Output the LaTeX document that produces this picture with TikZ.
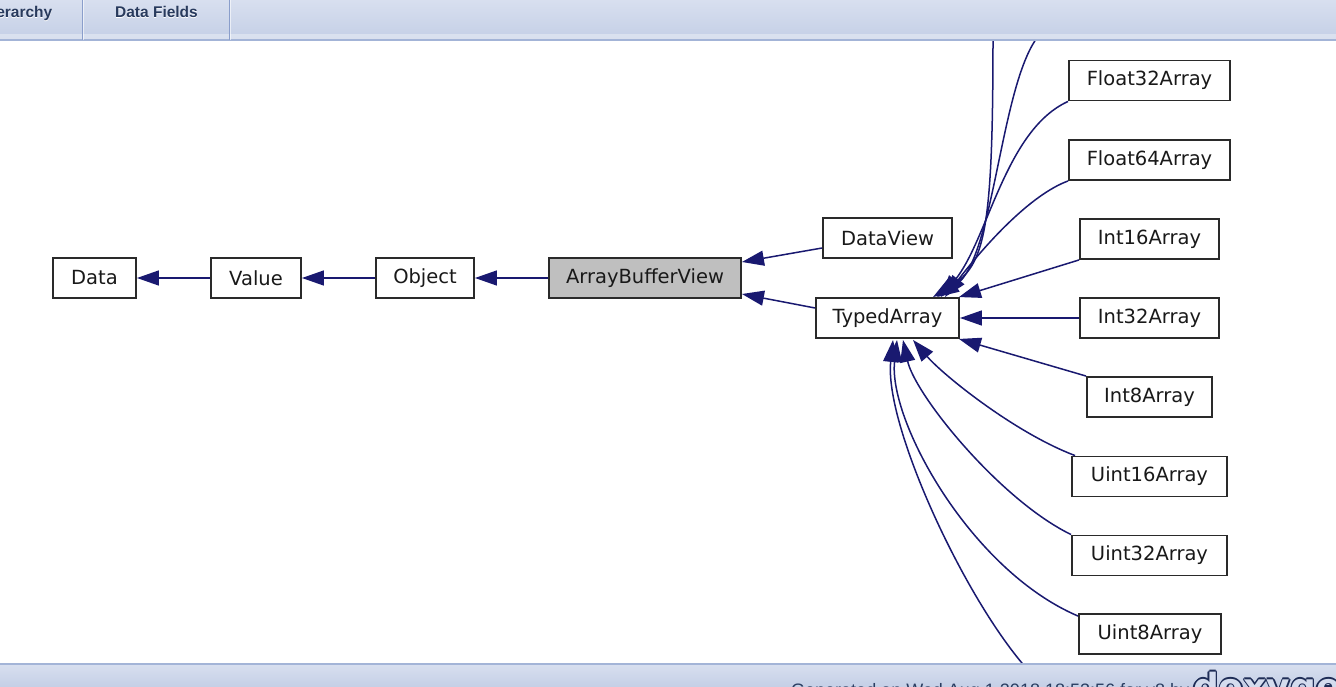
\documentclass[tikz,border=0pt]{standalone}
\usepackage{fontspec}
\setmainfont{DejaVu Sans}
\newfontfamily\tabfont{Liberation Sans}
\newfontfamily\logofont{DejaVu Sans}
\usetikzlibrary{arrows.meta,calc}
\definecolor{edgec}{HTML}{191970}
\definecolor{boxc}{HTML}{2A2A2A}
\definecolor{abvfill}{HTML}{BFBFBF}
\definecolor{barTop}{HTML}{D8DFEF}
\definecolor{barBot}{HTML}{C4CFE6}
\definecolor{barLine}{HTML}{A3B4D7}
\definecolor{sepc}{HTML}{8A9ECB}
\definecolor{tabtextc}{HTML}{283A5D}
\definecolor{foottextc}{HTML}{2A3D61}
\definecolor{logoline}{HTML}{1E2C56}
\definecolor{logofill}{HTML}{D4DCEE}
\tikzset{
  cls/.style={draw=boxc, line width=1.9pt, fill=white, minimum height=40pt,
    inner sep=0pt, text=black!90, font=\fontsize{19.5}{22}\selectfont},
  edge/.style={draw=edgec, line width=1.5pt, -{Triangle[length=22pt,width=15pt]}},
  tabtext/.style={font=\tabfont\bfseries\fontsize{15.5}{18}\selectfont, inner sep=0pt},
}
\begin{document}
\begin{tikzpicture}[x=1pt,y=-1pt]
\useasboundingbox (0,0) rectangle (1336,687);
\fill[white] (0,0) rectangle (1336,687);

% nodes
\node[cls, minimum width=83pt]  (data) at (94.5,278) {Data};
\node[cls, minimum width=90pt]  (val)  at (256,278) {Value};
\node[cls, minimum width=98pt]  (obj)  at (425,278) {Object};
\node[cls, minimum width=192pt, fill=abvfill] (abv) at (645,278) {ArrayBufferView};
\node[cls, minimum width=129pt] (dv)   at (887.5,238) {DataView};
\node[cls, minimum width=143pt] (ta)   at (887.5,318) {TypedArray};
\node[cls, minimum width=161pt] (f32)  at (1149.5,80.5) {Float32Array};
\node[cls, minimum width=161pt] (f64)  at (1149.5,160) {Float64Array};
\node[cls, minimum width=139pt] (i16)  at (1149.5,239) {Int16Array};
\node[cls, minimum width=139pt] (i32)  at (1149.5,318) {Int32Array};
\node[cls, minimum width=125pt] (i8)   at (1149.5,397) {Int8Array};
\node[cls, minimum width=155pt] (u16)  at (1149.5,476.5) {Uint16Array};
\node[cls, minimum width=155pt] (u32)  at (1149.5,555.5) {Uint32Array};
\node[cls, minimum width=142pt] (u8)   at (1150,634) {Uint8Array};

% free ends of edges leaving the visible area
\coordinate (t1) at (993,36);
\coordinate (t2) at (1040,34);
\coordinate (b1) at (1028,670);

% edges
\draw[edge] (val.west) -- (data.east);
\draw[edge] (obj.west) -- (val.east);
\draw[edge] (abv.west) -- (obj.east);
\draw[edge] ($(dv.west)+(0,10)$) -- ($(abv.east)+(0,-16)$);
\draw[edge] ($(ta.west)+(0,-10)$) -- ($(abv.east)+(0,16)$);

\draw[edge] (t1) .. controls (993,230) and (985,265) .. ($(ta.north)+(45.5,0)$);
\draw[edge] (t2) .. controls (1000,80) and (995,260) .. ($(ta.north)+(49.5,0)$);
\draw[edge] (f32.south west) .. controls (1005,130) and (988,240) .. ($(ta.north)+(53.5,0)$);
\draw[edge] (f64.south west) .. controls (1030,195) and (985,245) .. ($(ta.north)+(57.5,0)$);
\draw[edge] (i16.south west) -- ($(ta.north east)+(-1,0)$);
\draw[edge] (i32.west) -- (ta.east);
\draw[edge] (i8.north west) -- ($(ta.south east)+(-1,0)$);
\draw[edge] ($(u16.north west)+(4,0)$) .. controls (1015,433) and (943,375) .. ($(ta.south)+(25.5,1)$);
\draw[edge] (u32.north west) .. controls (1000,500) and (915,395) .. ($(ta.south)+(15.5,1)$);
\draw[edge] ($(u8.north west)+(0,3)$) .. controls (970,570) and (888,420) .. ($(ta.south)+(9.5,1)$);
\draw[edge] (b1) .. controls (965,600) and (884,425) .. ($(ta.south)+(5.5,1)$);

% top tab bar
\shade[top color=barTop, bottom color=barBot] (0,0) rectangle (1336,40);
\fill[white, opacity=0.35] (0,34) rectangle (1336,40);
\draw[barLine, line width=1.5pt] (0,40) -- (1336,40);
\draw[sepc, line width=1pt] (82.5,0) -- (82.5,40);
\draw[white, opacity=0.6, line width=1pt] (83.5,0) -- (83.5,40);
\draw[sepc, line width=1pt] (229.5,0) -- (229.5,40);
\draw[white, opacity=0.6, line width=1pt] (230.5,0) -- (230.5,40);
\node[tabtext, text=white, anchor=base east] (tabAshadow) at (52.5,18.5) {erarchy};
\node[tabtext, text=tabtextc, anchor=base east] (tabA) at (52.5,17.5) {erarchy};
\node[tabtext, text=white, anchor=base] (tabBshadow) at (156.5,18.5) {Data Fields};
\node[tabtext, text=tabtextc, anchor=base] (tabB) at (156.5,17.5) {Data Fields};

% bottom bar
\shade[top color=barTop, bottom color=barBot] (0,664) rectangle (1336,687);
\draw[barLine, line width=1.5pt] (0,664) -- (1336,664);
\begin{scope}
\clip (0,665) rectangle (1336,687);
\node[anchor=base west, inner sep=0pt, text=foottextc,
  font=\tabfont\fontsize{18}{20}\selectfont] (foot) at (791,696)
  {Generated on Wed Aug 1 2018 18:53:56 for v8 by};
\foreach \dx/\dy in {-1.3/0,1.3/0,0/-1.3,0/1.3,-0.9/-0.9,0.9/0.9,-0.9/0.9,0.9/-0.9}{
  \node[anchor=base west, inner sep=0pt, text=logoline,
    font=\logofont\bfseries\fontsize{36}{40}\selectfont] at (1193+\dx,699+\dy) {doxygen};
}
\node[anchor=base west, inner sep=0pt, text=logofill,
  font=\logofont\bfseries\fontsize{36}{40}\selectfont] (logo) at (1193,699) {doxygen};
\end{scope}
\end{tikzpicture}
\end{document}
